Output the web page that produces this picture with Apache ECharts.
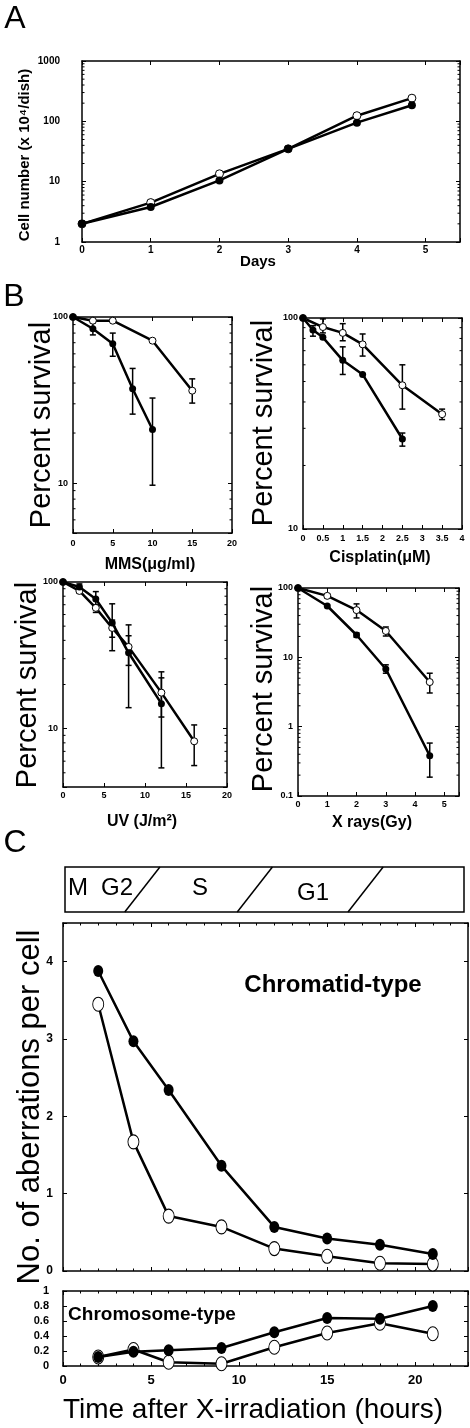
<!DOCTYPE html>
<html><head><meta charset="utf-8">
<script src="https://cdn.jsdelivr.net/npm/echarts@6/dist/echarts.min.js"></script>
<style>html,body{margin:0;padding:0;background:#fff}#c{width:470px;height:1428px}</style>
</head><body><div id="c"></div>
<script>
// ---------------- DATA ----------------
// A: growth curve
const growthDays = [0, 1, 2, 3, 4, 4.8];
const growthFilled = [2, 3.8, 10.5, 35, 95, 185];
const growthOpen = [2, 4.5, 13.5, 35, 124, 242];

// B: survival curves
const mmsDoseFilled = [0, 2.5, 5, 7.5, 10];
const mmsFilled = [100, 85, 69, 37, 21];
const mmsFilledErr = [null, [78, 92], [58, 80], [26, 49], [9.7, 32.5]];
const mmsDoseOpen = [0, 2.5, 5, 10, 15];
const mmsOpen = [100, 95, 95, 72, 36];
const mmsOpenErr = [null, null, null, null, [30.3, 42.4]];

const cisDoseFilled = [0, 0.25, 0.5, 1, 1.5, 2.5];
const cisFilled = [100, 87.7, 81, 63, 54, 26.7];
const cisFilledErr = [null, [82, 92], null, [54, 73], null, [24.7, 28.5]];
const cisDoseOpen = [0, 0.5, 1, 1.5, 2.5, 3.5];
const cisOpen = [100, 90.6, 85, 75, 48, 35];
const cisOpenErr = [null, [85, 99], [78, 94], [66, 84], [37, 60], [33, 37]];

const uvDoseFilled = [0, 2, 4, 6, 8, 12];
const uvFilled = [100, 92.5, 76.6, 52.6, 32.9, 14.8];
const uvFilledErr = [null, [88, 97], [70, 86], [34, 71], [13.9, 43], [5.4, 22.2]];
const uvDoseOpen = [0, 2, 4, 6, 8, 12, 16];
const uvOpen = [100, 86.9, 66.6, 48.6, 36.1, 17.6, 8.2];
const uvOpenErr = [null, [84, 90], [62, 70], [42, 55], [27, 51], [12, 24.4], [5.6, 10.6]];

const xrayDose = [0, 1, 2, 3, 4.5];
const xrayFilled = [100, 55, 21, 6.8, 0.38];
const xrayFilledErr = [null, null, [19.5, 22.5], [5.9, 7.8], [0.187, 0.58]];
const xrayOpen = [100, 77, 48, 24, 4.4];
const xrayOpenErr = [null, [72, 82], [37, 59], [20.3, 27.4], [3.06, 5.9]];

// C: aberrations
const hours = [2, 4, 6, 9, 12, 15, 18, 21];
const chromatidFilled = [3.88, 2.97, 2.34, 1.36, 0.57, 0.42, 0.34, 0.22];
const chromatidOpen = [3.45, 1.67, 0.71, 0.57, 0.29, 0.19, 0.10, 0.09];
const chromosomeFilled = [0.12, 0.19, 0.21, 0.24, 0.45, 0.64, 0.63, 0.80];
const chromosomeOpen = [0.12, 0.22, 0.05, 0.03, 0.25, 0.44, 0.57, 0.43];

// cell-cycle phase bar (boundary hours at bottom / top of the bar)
const phaseNames = ['M', 'G2', 'S', 'G1'];
const phaseBoundaries = [[3.4, 5.4], [9.8, 11.8], [16.1, 18.1]];

// ---------------- BUILD ----------------
const FONT = '"Liberation Sans", Arial, Helvetica, sans-serif';
const option = { animation: false, backgroundColor: '#fff', grid: [], xAxis: [], yAxis: [], series: [], graphic: [] };

function stepFmt(step) {
  return v => Math.abs(v / step - Math.round(v / step)) < 1e-6 ? String(+v.toFixed(6)) : '';
}
function listFmt(list) {
  return v => { for (const p of list) { if (Math.abs(v - p) / p < 1e-6) return String(p); } return ''; };
}
const AXLINE = { show: true, onZero: false, lineStyle: { color: '#000', width: 1.5 } };

function makeAxis(d, gi, pos, showLabels) {
  const a = {
    gridIndex: gi, position: pos, type: d.type || 'value', min: d.min, max: d.max,
    axisLine: AXLINE, splitLine: { show: false },
    axisTick: { show: d.ticks !== false, inside: true, length: d.tickLen || 4, lineStyle: { color: '#000', width: 1 } },
    axisLabel: { show: showLabels && d.labels !== false, margin: d.margin, fontSize: d.fs, fontWeight: 'bold',
      color: '#000', fontFamily: FONT,
      formatter: d.type === 'log' ? listFmt(d.labelList) : stepFmt(d.labelStep || d.interval) },
    axisPointer: { show: false }
  };
  if (d.type === 'log') { a.logBase = 10; }
  else { a.interval = d.interval; }
  if (d.minor) a.minorTick = { show: true, splitNumber: d.minor, length: 2.5, lineStyle: { color: '#000', width: 1 } };
  if (d.hidden) { a.axisLine = { show: false }; a.axisTick = { show: false }; a.axisLabel = { show: false }; }
  return a;
}

function addPanel(p) {
  const gi = option.grid.length;
  option.grid.push(Object.assign({ containLabel: false, outerBoundsMode: 'none' }, p.grid));
  const xi = option.xAxis.length, yi = option.yAxis.length;
  option.xAxis.push(makeAxis(p.x, gi, 'bottom', true), makeAxis(p.x, gi, 'top', false));
  option.yAxis.push(makeAxis(p.y, gi, 'left', true), makeAxis(p.y, gi, 'right', false));
  if (p.y.type === 'log') {
    const ticks = [];
    for (let d = Math.floor(Math.log10(p.y.min)); d < Math.ceil(Math.log10(p.y.max)); d++)
      for (let k = 2; k <= 9; k++) { const v = k * Math.pow(10, d); if (v > p.y.min * 1.0001 && v < p.y.max * 0.9999) ticks.push(v); }
    option.series.push({
      type: 'custom', coordinateSystem: 'cartesian2d', xAxisIndex: xi, yAxisIndex: yi, silent: true, clip: false, z: 1,
      data: ticks.map(v => [p.x.min, v]),
      renderItem: (params, api) => {
        const cs = params.coordSys; const pt = api.coord([api.value(0), api.value(1)]); const L = 2.5;
        return { type: 'group', children: [
          { type: 'line', shape: { x1: cs.x, y1: pt[1], x2: cs.x + L, y2: pt[1] }, style: { stroke: '#000', lineWidth: 1 } },
          { type: 'line', shape: { x1: cs.x + cs.width - L, y1: pt[1], x2: cs.x + cs.width, y2: pt[1] }, style: { stroke: '#000', lineWidth: 1 } }
        ] };
      }
    });
  }
  return { xi, yi };
}

function lineSeries(ax, xs, ys, filled, size, width) {
  return {
    type: 'line', xAxisIndex: ax.xi, yAxisIndex: ax.yi, clip: false, z: filled ? 4 : 3,
    data: xs.map((x, i) => [x, ys[i]]),
    symbol: 'circle', symbolSize: size, showSymbol: true,
    lineStyle: { color: '#000', width: width },
    itemStyle: filled ? { color: '#000', borderColor: '#000', borderWidth: 0 } : { color: '#fff', borderColor: '#000', borderWidth: 1 },
    emphasis: { disabled: true }
  };
}
function errSeries(ax, xs, errs) {
  const data = [];
  xs.forEach((x, i) => { if (errs[i]) data.push([x, errs[i][0], errs[i][1]]); });
  return {
    type: 'custom', coordinateSystem: 'cartesian2d', xAxisIndex: ax.xi, yAxisIndex: ax.yi, clip: false, z: 2, silent: true,
    data, encode: { x: 0, y: [1, 2] },
    renderItem: (params, api) => {
      const lo = api.coord([api.value(0), api.value(1)]);
      const hi = api.coord([api.value(0), api.value(2)]);
      const w = 3, st = { stroke: '#000', lineWidth: 1.5 };
      return { type: 'group', children: [
        { type: 'line', shape: { x1: lo[0], y1: lo[1], x2: hi[0], y2: hi[1] }, style: st },
        { type: 'line', shape: { x1: lo[0] - w, y1: lo[1], x2: lo[0] + w, y2: lo[1] }, style: st },
        { type: 'line', shape: { x1: hi[0] - w, y1: hi[1], x2: hi[0] + w, y2: hi[1] }, style: st }
      ] };
    }
  };
}
function txt(text, x, y, fs, weight, rot) {
  return { type: 'text', x, y, rotation: rot || 0, z: 20, silent: true,
    style: { text, fontSize: fs, fontWeight: weight || 'normal', fontFamily: FONT, fill: '#000', align: 'center', verticalAlign: 'middle' } };
}

// ---- Panel A ----
const axA = addPanel({ grid: { left: 82, top: 61, width: 378, height: 181 },
  x: { min: 0, max: 5.5, interval: 1, fs: 10, margin: 3 },
  y: { type: 'log', min: 1, max: 1000, labelList: [1, 10, 100, 1000], fs: 10, margin: 22 } });
option.series.push(lineSeries(axA, growthDays, growthOpen, false, 8, 2.5), lineSeries(axA, growthDays, growthFilled, true, 8, 2.5));

// ---- Panel B ----
const axB1 = addPanel({ grid: { left: 73, top: 317, width: 159, height: 216 },
  x: { min: 0, max: 20, interval: 5, fs: 9, margin: 6 },
  y: { type: 'log', min: 5, max: 100, labelList: [10, 100], fs: 9, margin: 5 } });
option.series.push(errSeries(axB1, mmsDoseFilled, mmsFilledErr), errSeries(axB1, mmsDoseOpen, mmsOpenErr),
  lineSeries(axB1, mmsDoseOpen, mmsOpen, false, 7, 2.5), lineSeries(axB1, mmsDoseFilled, mmsFilled, true, 7, 2.5));

const axB2 = addPanel({ grid: { left: 303, top: 318, width: 159, height: 211 },
  x: { min: 0, max: 4, interval: 0.5, fs: 9, margin: 5 },
  y: { type: 'log', min: 10, max: 100, labelList: [10, 100], fs: 9, margin: 5 } });
option.series.push(errSeries(axB2, cisDoseFilled, cisFilledErr), errSeries(axB2, cisDoseOpen, cisOpenErr),
  lineSeries(axB2, cisDoseOpen, cisOpen, false, 7, 2.5), lineSeries(axB2, cisDoseFilled, cisFilled, true, 7, 2.5));

const axB3 = addPanel({ grid: { left: 63, top: 582, width: 164, height: 205 },
  x: { min: 0, max: 20, interval: 5, fs: 9, margin: 4 },
  y: { type: 'log', min: 4, max: 100, labelList: [10, 100], fs: 9, margin: 5 } });
option.series.push(errSeries(axB3, uvDoseFilled, uvFilledErr), errSeries(axB3, uvDoseOpen, uvOpenErr),
  lineSeries(axB3, uvDoseOpen, uvOpen, false, 7, 2.5), lineSeries(axB3, uvDoseFilled, uvFilled, true, 7, 2.5));

const axB4 = addPanel({ grid: { left: 298, top: 588, width: 161, height: 208 },
  x: { min: 0, max: 5.5, interval: 1, fs: 9, margin: 4 },
  y: { type: 'log', min: 0.1, max: 100, labelList: [0.1, 1, 10, 100], fs: 9, margin: 5 } });
option.series.push(errSeries(axB4, xrayDose, xrayFilledErr), errSeries(axB4, xrayDose, xrayOpenErr),
  lineSeries(axB4, xrayDose, xrayOpen, false, 7, 2.5), lineSeries(axB4, xrayDose, xrayFilled, true, 7, 2.5));

// ---- Panel C: phase bar ----
const axPh = addPanel({ grid: { left: 65, top: 867, width: 399, height: 45, show: true, borderColor: '#000', borderWidth: 1.5 },
  x: { min: 0, max: 22.7, interval: 1, hidden: true }, y: { min: 0, max: 1, interval: 1, hidden: true } });
option.series.push({
  type: 'custom', coordinateSystem: 'cartesian2d', xAxisIndex: axPh.xi, yAxisIndex: axPh.yi, clip: false, silent: true,
  data: phaseBoundaries.map(b => [b[0], b[1]]), encode: { x: [0, 1] },
  renderItem: (params, api) => {
    const a = api.coord([api.value(0), 0]), b = api.coord([api.value(1), 1]);
    return { type: 'line', shape: { x1: a[0], y1: a[1], x2: b[0], y2: b[1] }, style: { stroke: '#000', lineWidth: 1.5 } };
  }
});

// ---- Panel C: chromatid ----
const axC1 = addPanel({ grid: { left: 63, top: 923, width: 405, height: 348 },
  x: { min: 0, max: 23, interval: 5, minor: 5, labels: false, tickLen: 4 },
  y: { min: 0, max: 4.5, interval: 1, labelStep: 1, fs: 12, margin: 10 } });
option.series.push(lineSeries(axC1, hours, chromatidOpen, false, [11, 14], 2.5), lineSeries(axC1, hours, chromatidFilled, true, [10, 12], 2.5));

// ---- Panel C: chromosome ----
const axC2 = addPanel({ grid: { left: 63, top: 1291, width: 405, height: 75 },
  x: { min: 0, max: 23, interval: 5, minor: 5, fs: 13, margin: 8, tickLen: 4 },
  y: { min: 0, max: 1, interval: 0.2, fs: 11, margin: 14, tickLen: 4 } });
option.series.push(lineSeries(axC2, hours, chromosomeOpen, false, [11, 14], 2.5), lineSeries(axC2, hours, chromosomeFilled, true, [10, 12], 2.5));

// ---- Texts ----
option.graphic.push(
  txt('A', 15, 19, 32), txt('B', 14, 297, 32), txt('C', 15, 843, 32),
  txt('Days', 258, 262, 15, 'bold'),
  txt('Cell number (x 10\u2074/dish)', 25, 155, 15, 'bold', Math.PI / 2),
  txt('MMS(\u03bcg/ml)', 150, 565, 16, 'bold'),
  txt('Cisplatin(\u03bcM)', 380, 558, 16, 'bold'),
  txt('UV (J/m\u00b2)', 142, 822, 16, 'bold'),
  txt('X rays(Gy)', 372, 823, 16, 'bold'),
  txt('Percent survival', 42, 425, 29, 'normal', Math.PI / 2),
  txt('Percent survival', 264, 423, 29, 'normal', Math.PI / 2),
  txt('Percent survival', 28, 685, 29, 'normal', Math.PI / 2),
  txt('Percent survival', 264, 689, 29, 'normal', Math.PI / 2),
  txt(phaseNames[0], 78, 888, 24), txt(phaseNames[1], 117, 888, 24), txt(phaseNames[2], 200, 888, 24), txt(phaseNames[3], 313, 893, 24),
  txt('Chromatid-type', 333, 985, 24, 'bold'),
  txt('Chromosome-type', 152, 1315, 19, 'bold'),
  txt('No. of aberrations per cell', 30, 1107, 31, 'normal', Math.PI / 2),
  txt('Time after X-irradiation (hours)', 253, 1410, 28)
);

const chart = echarts.init(document.getElementById('c'), null, { renderer: 'canvas' });
chart.setOption(option);
</script></body></html>
